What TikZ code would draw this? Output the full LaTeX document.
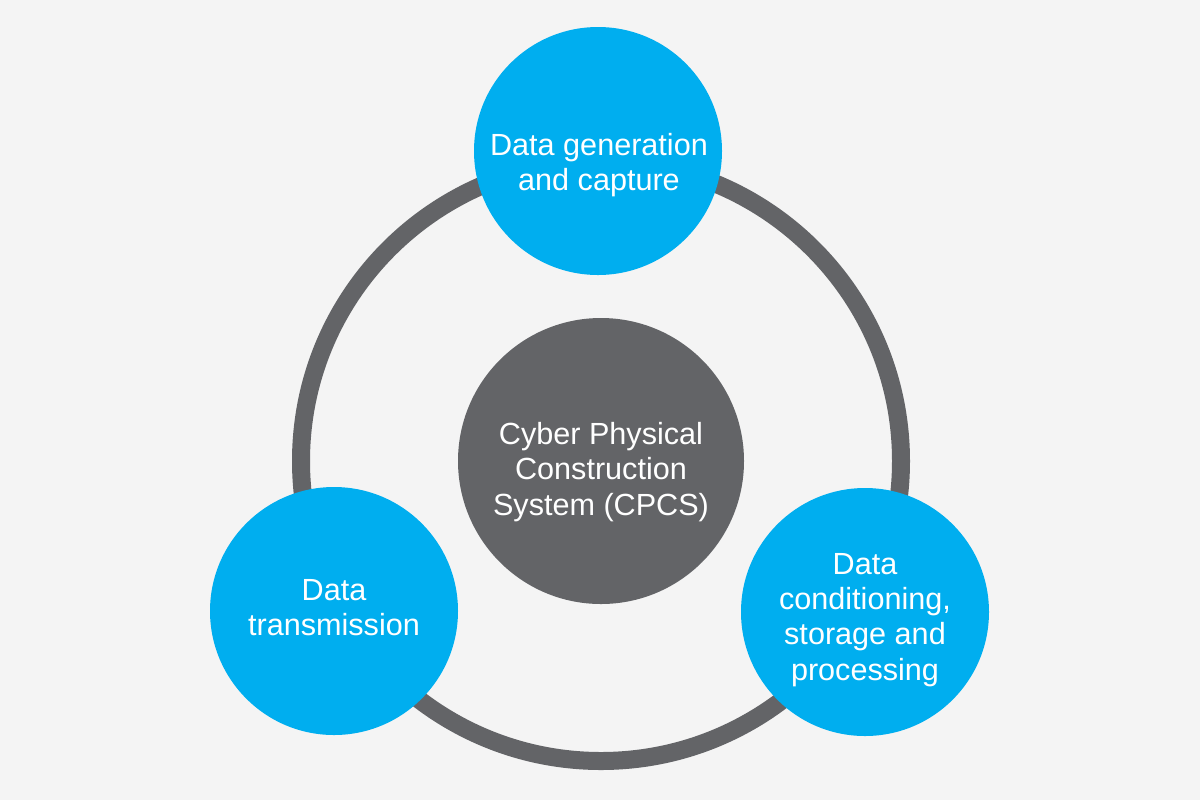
\documentclass[tikz,border=0pt]{standalone}
\usepackage{fontspec}
\setmainfont{Liberation Sans}
\definecolor{bg}{HTML}{F4F4F4}
\definecolor{cblue}{HTML}{00AEEF}
\definecolor{cgray}{HTML}{636467}
\begin{document}
\begin{tikzpicture}[x=0.5pt,y=-0.5pt,
  bluecircle/.style={circle,fill=cblue,draw=none,minimum size=124pt,inner sep=0pt},
  graycircle/.style={circle,fill=cgray,draw=none,minimum size=143pt,inner sep=0pt},
  label text/.style={text=white,align=center,inner sep=0pt,
    font=\fontsize{15.3pt}{17.6pt}\selectfont},
  ring/.style={draw=cgray,line width=9pt}]
\fill[bg] (0,0) rectangle (1200,800);
\useasboundingbox (0,0) rectangle (1200,800);
\coordinate (c) at (601,461);
\draw[ring] (c) circle[radius=150pt];
\node[graycircle] (cpcs) at (601,461) {};
\node[bluecircle] (gen) at (598,151) {};
\node[bluecircle] (trans) at (334,611) {};
\node[bluecircle] (proc) at (865,612) {};
\node[label text] (cpcsT) at (601,472) {Cyber Physical\\Construction\\System (CPCS)};
\node[label text] (genT) at (599,165) {Data generation\\and capture};
\node[label text] (transT) at (334,608) {Data\\transmission};
\node[label text] (procT) at (865,620) {Data\\conditioning,\\storage and\\processing};
\end{tikzpicture}
\end{document}
